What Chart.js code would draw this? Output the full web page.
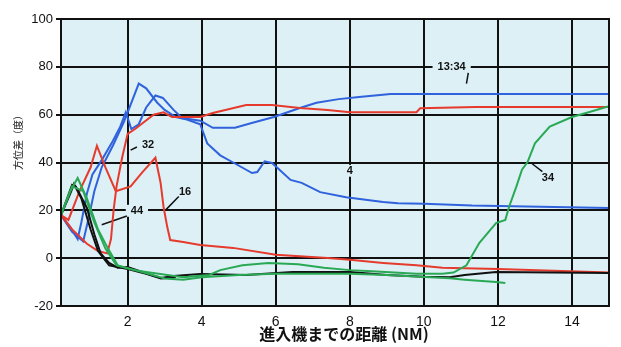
<!DOCTYPE html>
<html><head><meta charset="utf-8">
<script src="https://cdn.jsdelivr.net/npm/chart.js@4.4.0/dist/chart.umd.min.js"></script>
<style>html,body{margin:0;padding:0;background:#fff;}#wrap{width:621px;height:347px;}</style>
</head><body><div id="wrap"><canvas id="c" width="621" height="347"></canvas></div>
<script>
// Tick labels
const xTicks = [2, 4, 6, 8, 10, 12, 14];
const yTicks = [-20, 0, 20, 40, 60, 80, 100];

// Series (distance NM -> value)
const blueA_x = [0.2, 0.45, 0.65, 0.75, 0.9, 1.05, 1.3, 1.6, 1.8, 1.95, 2.1, 2.3, 2.5, 2.75, 2.95, 3.24, 3.47, 3.96, 4.3, 4.9, 5.35, 5.95, 6.65, 7.1, 7.7, 8.25, 9.1, 15];
const blueA_y = [18, 13, 8, 15, 27, 35, 41, 49, 55, 61, 54, 56, 63, 68, 67, 62, 58.6, 57.5, 54.5, 54.5, 56.5, 59, 62.8, 65, 66.5, 67.4, 68.6, 68.6];
const blueB_x = [0.2, 0.5, 0.8, 0.95, 1.1, 1.3, 1.6, 1.9, 2.0, 2.3, 2.5, 2.8, 3.0, 3.3, 3.6, 3.96, 4.15, 4.5, 4.85, 5.36, 5.5, 5.7, 5.9, 6.4, 6.7, 7.2, 7.9, 8.9, 9.3, 10, 11.3, 15];
const blueB_y = [18, 11, 7, 17, 28, 38, 47, 57, 61, 73, 71, 65, 62, 59, 58, 56, 48, 43, 40, 35.6, 36, 40.5, 39.8, 32.7, 31.5, 27.6, 25.5, 23.5, 23, 22.8, 22, 21];
const red32_x = [0.2, 0.5, 0.9, 1.2, 1.45, 1.55, 1.62, 1.7, 1.85, 2.0, 2.2, 2.7, 2.97, 3.2, 3.96, 4.3, 5.2, 5.9, 6.65, 7.4, 8.0, 9.8, 9.9, 11.4, 15];
const red32_y = [18, 12, 6, 3, 2, 8, 20, 30, 42, 52, 54, 60, 61, 59, 59, 60.7, 64, 64, 62.8, 62, 61, 61, 62.7, 63.2, 63.2];
const red16_x = [0.2, 0.4, 0.7, 1.0, 1.17, 1.4, 1.68, 2.08, 2.4, 2.75, 2.89, 2.97, 3.07, 3.15, 3.5, 3.96, 4.85, 6.0, 7.4, 8.0, 8.9, 9.8, 10.5, 12, 15];
const red16_y = [18, 16, 28, 38, 47, 38, 28, 30, 36, 42, 31.5, 21.4, 13, 7.6, 6.8, 5.5, 4.3, 1.4, 0.1, -0.7, -2, -3, -4, -4.5, -6];
const green34_x = [0.2, 0.45, 0.65, 0.9, 1.2, 1.47, 1.73, 2.17, 3.07, 3.5, 4.2, 4.5, 5.1, 5.8, 6.6, 7.3, 8.0, 8.6, 9.2, 9.8, 10.5, 10.8, 11.15, 11.5, 11.95, 12.2, 12.3, 12.5, 12.65, 12.8, 13.0, 13.4, 14.0, 14.45, 15];
const green34_y = [18, 28, 33.5, 25, 12, 4, -3, -5, -7, -8, -7, -5, -3, -2, -2.5, -4, -5, -5.5, -6, -6.5, -6.5, -6, -3, 6.4, 14.7, 16, 21.4, 30, 37, 40.2, 48, 55, 59, 61, 63.5];
const green2_x = [0.2, 0.5, 0.8, 1.1, 1.4, 1.7, 2.2, 3.0, 3.5, 4.0, 5.0, 6.0, 7.0, 8.0, 9.0, 9.9, 10.7, 11.1, 11.95, 12.2];
const green2_y = [18, 30, 28, 15, 4, -3, -5, -8.5, -9, -8, -7, -6.5, -6.5, -6.5, -7, -7.8, -8.4, -9, -10, -10.4];
const black44_x = [0.2, 0.5, 0.6, 0.9, 1.1, 1.27, 1.5, 1.73, 2.0, 2.43, 2.9, 3.24, 3.96, 5.2, 6.45, 8.0, 9.0, 10.0, 10.7, 11.1, 11.95, 15];
const black44_y = [18, 30.7, 30, 21, 10, 2, -2, -4, -3.7, -6, -8.3, -7.5, -6.6, -7, -5.8, -5.8, -7, -7.8, -8, -7, -5.8, -6.2];
const black2_x = [0.2, 0.45, 0.55, 0.75, 1.0, 1.2, 1.5, 2.0, 2.5, 2.9, 3.3];
const black2_y = [18, 27, 31, 25, 12, 3, -3, -4.5, -6.5, -8.5, -8];

// Annotation texts
const noteTexts = ["13:34", "4", "32", "16", "44", "34"];
const noteX = [10.75, 8.0, 2.55, 3.55, 2.25, 13.35];
const noteY = [80, 36.5, 47.5, 27.7, 19.8, 33.5];

const yTitle = "方位差（度）";
const xTitle = "進入機までの距離 (NM)";

function pts(xs, ys) { return xs.map((x, i) => ({x: x, y: ys[i]})); }
function ds(xs, ys, color) {
  return {data: pts(xs, ys), borderColor: color, borderWidth: 2, pointRadius: 0, tension: 0, fill: false};
}
const BLUE = '#2f62dc', RED = '#e63a2c', GREEN = '#2aa955', BLACK = '#111111';
const BG = '#dcf0f6';

const decor = {
  id: 'decor',
  beforeDraw(chart) {
    const a = chart.chartArea, c = chart.ctx;
    c.save(); c.fillStyle = BG; c.fillRect(a.left, a.top, a.right - a.left, a.bottom - a.top); c.restore();
  },
  beforeDatasetsDraw(chart) {
    const c = chart.ctx, sx = chart.scales.x, sy = chart.scales.y;
    c.save();
    c.font = 'bold 11px "Liberation Sans", Arial, sans-serif';
    c.textAlign = 'center'; c.textBaseline = 'middle';
    noteTexts.forEach((t, i) => {
      const px = sx.getPixelForValue(noteX[i]), py = sy.getPixelForValue(noteY[i]);
      const w = c.measureText(t).width + 10;
      c.fillStyle = BG; c.fillRect(px - w / 2, py - 6, w, 12);
      c.fillStyle = '#111'; c.fillText(t, px, py);
    });
    // leader lines
    const leaders = [[11.2, 77.5, 11.15, 73], [8.0, 34, 8.0, 27], [2.25, 46.5, 2.08, 45.2], [3.38, 25.8, 3.03, 20.2], [1.98, 17.6, 1.3, 14], [12.9, 39.8, 13.2, 36.2]];
    c.strokeStyle = '#111'; c.lineWidth = 1.5;
    leaders.forEach(l => {
      c.beginPath();
      c.moveTo(sx.getPixelForValue(l[0]), sy.getPixelForValue(l[1]));
      c.lineTo(sx.getPixelForValue(l[2]), sy.getPixelForValue(l[3]));
      c.stroke();
    });
    c.restore();
  },
  afterDraw(chart) {
    const a = chart.chartArea, c = chart.ctx;
    c.save();
    c.strokeStyle = '#111'; c.lineWidth = 2;
    c.strokeRect(a.left, a.top, a.right - a.left, a.bottom - a.top);
    c.fillStyle = '#111';
    c.font = 'bold 16px "Noto Sans CJK JP", sans-serif';
    c.textAlign = 'center'; c.textBaseline = 'middle';
    c.fillText(xTitle, 344, 334);
    c.translate(18, 140); c.rotate(-Math.PI / 2);
    c.font = '10px "Noto Sans CJK JP", sans-serif';
    c.fillText(yTitle, 0, 0);
    c.restore();
  }
};

new Chart(document.getElementById('c'), {
  type: 'line',
  data: {
    datasets: [
      ds(green2_x, green2_y, GREEN),
      ds(green34_x, green34_y, GREEN),
      ds(black2_x, black2_y, BLACK),
      ds(black44_x, black44_y, BLACK),
      ds(red16_x, red16_y, RED),
      ds(red32_x, red32_y, RED),
      ds(blueB_x, blueB_y, BLUE),
      ds(blueA_x, blueA_y, BLUE)
    ]
  },
  options: {
    responsive: false, animation: false, devicePixelRatio: 1,
    layout: {padding: {top: 19, right: 12, left: 0, bottom: 0}},
    plugins: {legend: {display: false}, tooltip: {enabled: false}},
    scales: {
      x: {
        type: 'linear', min: 0.2, max: 15,
        afterBuildTicks: s => { s.ticks = xTicks.map(v => ({value: v})); },
        afterFit: s => { s.height = 41; },
        grid: {color: '#111', lineWidth: 2, drawTicks: false, tickLength: 0},
        border: {display: false},
        ticks: {color: '#111', padding: 8, font: {size: 14, family: '"Liberation Sans", Arial, sans-serif'}, callback: v => String(v)}
      },
      y: {
        min: -20, max: 100,
        afterBuildTicks: s => { s.ticks = yTicks.map(v => ({value: v})); },
        afterFit: s => { s.width = 61; },
        grid: {color: '#111', lineWidth: 2, drawTicks: true, tickLength: 5},
        border: {display: false},
        ticks: {color: '#111', padding: 3, font: {size: 13, family: '"Liberation Sans", Arial, sans-serif'}, callback: v => String(v)}
      }
    }
  },
  plugins: [decor]
});
</script>
</body></html>
